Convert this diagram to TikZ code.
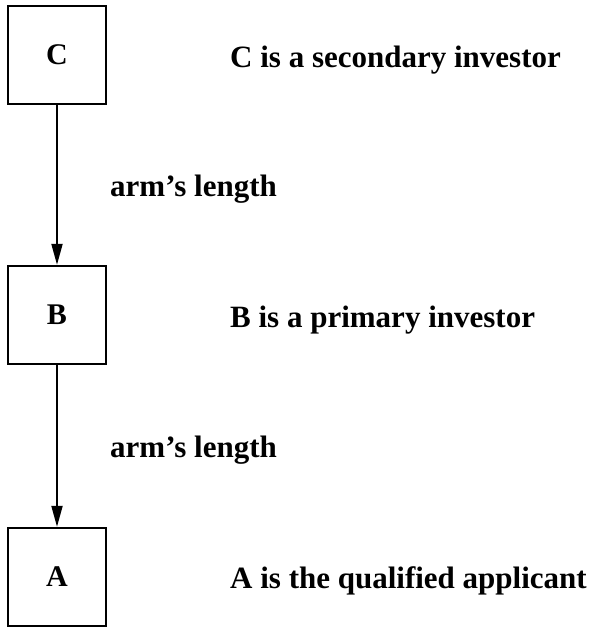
\documentclass[tikz,border=0pt]{standalone}
\usepackage{fontspec}
\setmainfont{Liberation Serif}
\usetikzlibrary{arrows.meta}
\tikzset{
  party/.style={draw, line width=2.4pt, minimum width=98pt, minimum height=98pt,
    inner sep=0pt, font=\bfseries\fontsize{30}{36}\selectfont},
  role/.style={anchor=base west, inner sep=0pt, font=\bfseries\fontsize{31}{37}\selectfont},
  link/.style={line width=2pt, -{Triangle[length=21pt, width=11pt]}},
}
\begin{document}
\begin{tikzpicture}[x=1pt, y=-1pt]
  \useasboundingbox (0,0) rectangle (589,627);
  % parties
  \node[party] (C) at (57,55) {C};
  \node[party] (B) at (57,315) {B};
  \node[party] (A) at (57,577) {A};
  % descriptions
  \node[role] (tC) at (230,67) {C is a secondary investor};
  \node[role] (tB) at (230,327) {B is a primary investor};
  \node[role] (tA) at (230,588) {A is the qualified applicant};
  % relationships
  \draw[link] (C) -- (B);
  \draw[link] (B) -- (A);
  \node[role] (l1) at (110,196) {arm's length};
  \node[role] (l2) at (110,457) {arm's length};
\end{tikzpicture}
\end{document}
